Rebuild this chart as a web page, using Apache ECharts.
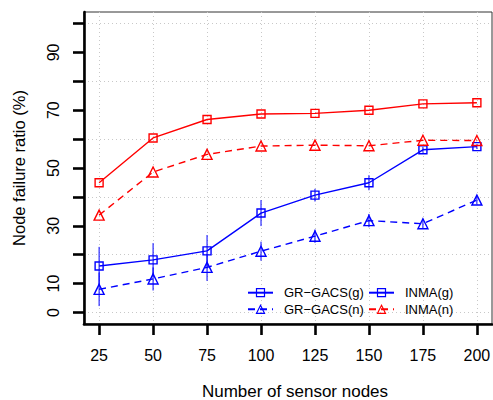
<!DOCTYPE html>
<html>
<head>
<meta charset="utf-8">
<script src="https://cdn.jsdelivr.net/npm/echarts@6/dist/echarts.min.js"></script>
<style>
html,body{margin:0;padding:0;background:#fff;}
#chart{width:493px;height:400px;}
</style>
</head>
<body>
<div id="chart"></div>
<script>
// ---- data ----
var categories = [25, 50, 75, 100, 125, 150, 175, 200];
var grGacsG = [16.1, 18.2, 21.3, 34.4, 40.6, 44.9, 56.3, 57.4];
var grGacsN = [8.0, 11.6, 15.6, 21.2, 26.4, 31.8, 30.7, 38.9];
var inmaG = [44.9, 60.4, 66.8, 68.7, 68.9, 70.0, 72.2, 72.6];
var inmaN = [33.7, 48.6, 54.7, 57.6, 57.9, 57.7, 59.6, 59.5];
var grGacsGErr = [6.6, 5.8, 5.5, 4.5, 2.2, 2.6, 1.0, 0.8];
var grGacsNErr = [5.8, 4.0, 4.7, 3.3, 2.3, 2.3, 1.7, 1.5];
var yTicks = [0, 10, 20, 30, 40, 50, 60, 70, 80, 90, 100];
var yTickLabels = [0, 10, 30, 50, 70, 90];
var yGridValues = [0, 20, 40, 60, 80, 100];
var names = ['GR\u2212GACS(g)', 'GR\u2212GACS(n)', 'INMA(g)', 'INMA(n)'];

var BLUE = '#0000ff', RED = '#ff0000';
var FONT = "'Liberation Sans', Arial, Helvetica, sans-serif";

function pairs(vals) { return categories.map(function (c, i) { return [c, vals[i]]; }); }
function errPairs(vals, errs) { return categories.map(function (c, i) { return [c, vals[i], errs[i]]; }); }

function lineSeries(name, vals, color, symbol, size, dashed) {
  return {
    name: name, type: 'line', data: pairs(vals),
    symbol: symbol, symbolSize: size, showSymbol: true,
    lineStyle: { color: color, width: 1.4, type: dashed ? [7, 5] : 'solid' },
    itemStyle: { color: 'rgba(0,0,0,0)', borderColor: color, borderWidth: 1.4 },
    z: 3
  };
}
function errSeries(vals, errs, color) {
  return {
    type: 'custom', data: errPairs(vals, errs), z: 2, silent: true,
    renderItem: function (params, api) {
      var x = api.value(0), y = api.value(1), e = api.value(2);
      var p1 = api.coord([x, y + e]), p2 = api.coord([x, y - e]);
      return { type: 'line', shape: { x1: p1[0], y1: p1[1], x2: p2[0], y2: p2[1] },
               style: { stroke: color, lineWidth: 1 } };
    }
  };
}
function legendItem(name, color) {
  return { name: name, itemStyle: { color: 'rgba(0,0,0,0)', borderColor: color, borderWidth: 1.2 },
           lineStyle: { color: color }, textStyle: { color: '#000' } };
}
var legendCommon = {
  orient: 'vertical', top: 284.4, padding: 0, itemGap: 0,
  itemWidth: 25, itemHeight: 10,
  textStyle: { fontFamily: FONT, fontSize: 13, color: '#000', lineHeight: 16.6, padding: [0, 0, 0, 6] }
};

var chart = echarts.init(document.getElementById('chart'), null, { renderer: 'svg' });
chart.setOption({
  animation: false,
  backgroundColor: '#fff',
  grid: { left: 84, right: 1, top: 12, bottom: 76, show: true, borderColor: '#333', borderWidth: 1,
          containLabel: false, outerBoundsMode: 'none' },
  legend: [
    Object.assign({}, legendCommon, { left: 247, data: [legendItem(names[0], BLUE), legendItem(names[1], BLUE)] }),
    Object.assign({}, legendCommon, { left: 368, data: [legendItem(names[2], BLUE), legendItem(names[3], RED)] })
  ],
  xAxis: {
    type: 'value', min: 18, max: 207,
    name: 'Number of sensor nodes', nameLocation: 'middle', nameGap: 59,
    nameTextStyle: { fontFamily: FONT, fontSize: 17, lineHeight: 16, color: '#000', padding: [0, 0, 0, 14] },
    axisLine: { show: true, onZero: false, lineStyle: { color: '#000', width: 2.6 } },
    axisTick: { show: true, customValues: categories, length: 11, lineStyle: { color: '#000', width: 2.6 } },
    axisLabel: { customValues: categories, margin: 23, fontFamily: FONT, fontSize: 16, color: '#000' },
    splitLine: { show: true, lineStyle: { color: '#c8c8c8', width: 1, type: [1, 3] } }
  },
  yAxis: [{
    type: 'value', min: -4, max: 104,
    name: 'Node failure ratio (%)', nameLocation: 'middle', nameGap: 57,
    nameTextStyle: { fontFamily: FONT, fontSize: 16.5, color: '#000' },
    axisLine: { show: true, onZero: false, lineStyle: { color: '#000', width: 2.6 } },
    axisTick: { show: true, customValues: yTicks, length: 11, lineStyle: { color: '#000', width: 2.6 } },
    axisLabel: { customValues: yTickLabels, rotate: 90, margin: 23, fontFamily: FONT, fontSize: 16, color: '#000' },
    splitLine: { show: false }
  }, {
    type: 'value', min: -4, max: 104, position: 'left',
    axisLine: { show: false }, axisLabel: { show: false },
    axisTick: { show: false, customValues: yGridValues },
    splitLine: { show: true, lineStyle: { color: '#c8c8c8', width: 1, type: [1, 3] } }
  }],
  series: [
    errSeries(grGacsG, grGacsGErr, BLUE),
    errSeries(grGacsN, grGacsNErr, BLUE),
    lineSeries(names[0], grGacsG, BLUE, 'rect', 8, false),
    lineSeries(names[1], grGacsN, BLUE, 'triangle', 10, true),
    lineSeries(names[2], inmaG, RED, 'rect', 8, false),
    lineSeries(names[3], inmaN, RED, 'triangle', 10, true)
  ]
});
</script>
</body>
</html>
